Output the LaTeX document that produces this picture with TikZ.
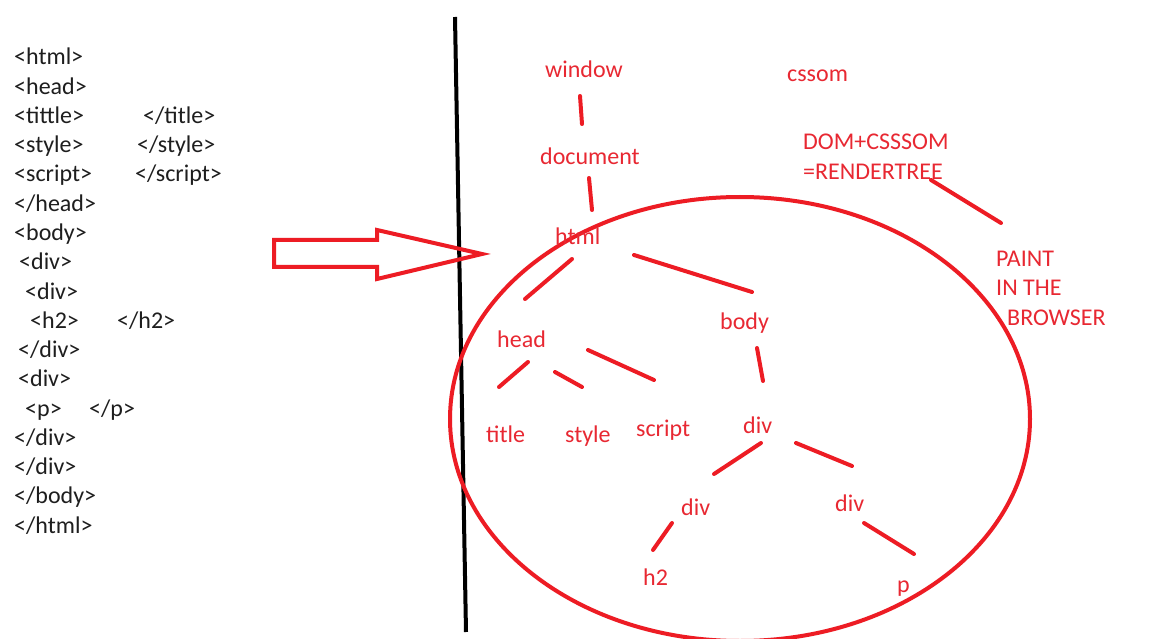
\documentclass[tikz,border=0pt]{standalone}
\usepackage{fontspec}
\setmainfont{Carlito}
\definecolor{pred}{RGB}{237,28,36}
\definecolor{tred}{RGB}{232,40,50}
\definecolor{code}{RGB}{30,30,30}
\begin{document}
\begin{tikzpicture}[x=1pt,y=-1pt,
  codetxt/.style={anchor=base west,inner sep=0pt,text=code,font=\fontsize{24}{29}\selectfont},
  lbl/.style={anchor=base west,inner sep=0pt,text=tred,font=\fontsize{24}{29}\selectfont},
  edge/.style={draw=pred,line width=4pt,line cap=round}]
\useasboundingbox[fill=white] (0,0) rectangle (1152,639);
% code listing
\node[codetxt] (c1) at (14,65) {<html>};
\node[codetxt] (c2) at (14,94.25) {<head>};
\node[codetxt] (c3) at (14,123.5) {<tittle>};
\node[codetxt] (c3b) at (143,123.5) {</title>};
\node[codetxt] (c4) at (14,152.75) {<style>};
\node[codetxt] (c4b) at (137,152.75) {</style>};
\node[codetxt] (c5) at (14,182) {<script>};
\node[codetxt] (c5b) at (135,182) {</script>};
\node[codetxt] (c6) at (14,211.25) {</head>};
\node[codetxt] (c7) at (14,240.5) {<body>};
\node[codetxt] (c8) at (19,269.75) {<div>};
\node[codetxt] (c9) at (25,299) {<div>};
\node[codetxt] (c10) at (30,328.25) {<h2>};
\node[codetxt] (c10b) at (117,328.25) {</h2>};
\node[codetxt] (c11) at (18,357.5) {</div>};
\node[codetxt] (c12) at (18,386.75) {<div>};
\node[codetxt] (c13) at (25,416) {<p>};
\node[codetxt] (c13b) at (89,416) {</p>};
\node[codetxt] (c14) at (14,445.25) {</div>};
\node[codetxt] (c15) at (14,474.5) {</div>};
\node[codetxt] (c16) at (14,503.75) {</body>};
\node[codetxt] (c17) at (14,533) {</html>};
% divider
\coordinate (v1) at (455,17);
\coordinate (v2) at (466,632);
\draw[line width=4pt,black] (v1) -- (v2);
% big arrow outline
\draw[pred,line width=4pt,line join=miter]
  (274,240) -- (377,240) -- (377,230) -- (482,254) -- (377,279) -- (377,267) -- (274,267) -- cycle;
% ellipse
\draw[pred,line width=4pt] (740,419) ellipse [x radius=290, y radius=222];
% labels
\node[lbl] (window) at (545,78) {window};
\node[lbl] (cssom) at (787,82) {cssom};
\node[lbl] (document) at (540,165) {document};
\node[lbl] (dom) at (803,150) {DOM+CSSSOM};
\node[lbl] (render) at (803,180) {=RENDERTREE};
\node[lbl] (html) at (555,245) {html};
\node[lbl] (paint1) at (996,267) {PAINT};
\node[lbl] (paint2) at (996,296) {IN THE};
\node[lbl] (paint3) at (1007,325) {BROWSER};
\node[lbl] (head) at (497,348) {head};
\node[lbl] (body) at (720,329) {body};
\node[lbl] (title) at (486,442) {title};
\node[lbl] (style) at (565,442) {style};
\node[lbl] (script) at (636,436) {script};
\node[lbl] (div) at (743,433) {div};
\node[lbl] (divl) at (681,515) {div};
\node[lbl] (divr) at (835,511) {div};
\node[lbl] (h2) at (643,585) {h2};
\node[lbl] (p) at (897,592) {p};
% connector end points
\coordinate (e1a) at (580,96);  \coordinate (e1b) at (582,124);
\coordinate (e2a) at (589,178); \coordinate (e2b) at (592,210);
\coordinate (e3a) at (931,180); \coordinate (e3b) at (1001,223);
\coordinate (e4a) at (572,259); \coordinate (e4b) at (525,299);
\coordinate (e5a) at (634,255); \coordinate (e5b) at (752,292);
\coordinate (e6a) at (528,362); \coordinate (e6b) at (499,387);
\coordinate (e7a) at (555,372); \coordinate (e7b) at (582,387);
\coordinate (e8a) at (588,350); \coordinate (e8b) at (654,380);
\coordinate (e9a) at (757,348); \coordinate (e9b) at (763,381);
\coordinate (e10a) at (761,443); \coordinate (e10b) at (714,474);
\coordinate (e11a) at (796,443); \coordinate (e11b) at (852,466);
\coordinate (e12a) at (672,523); \coordinate (e12b) at (653,550);
\coordinate (e13a) at (864,523); \coordinate (e13b) at (914,554);
\foreach \i in {1,...,13} \draw[edge] (e\i a) -- (e\i b);
\end{tikzpicture}
\end{document}
